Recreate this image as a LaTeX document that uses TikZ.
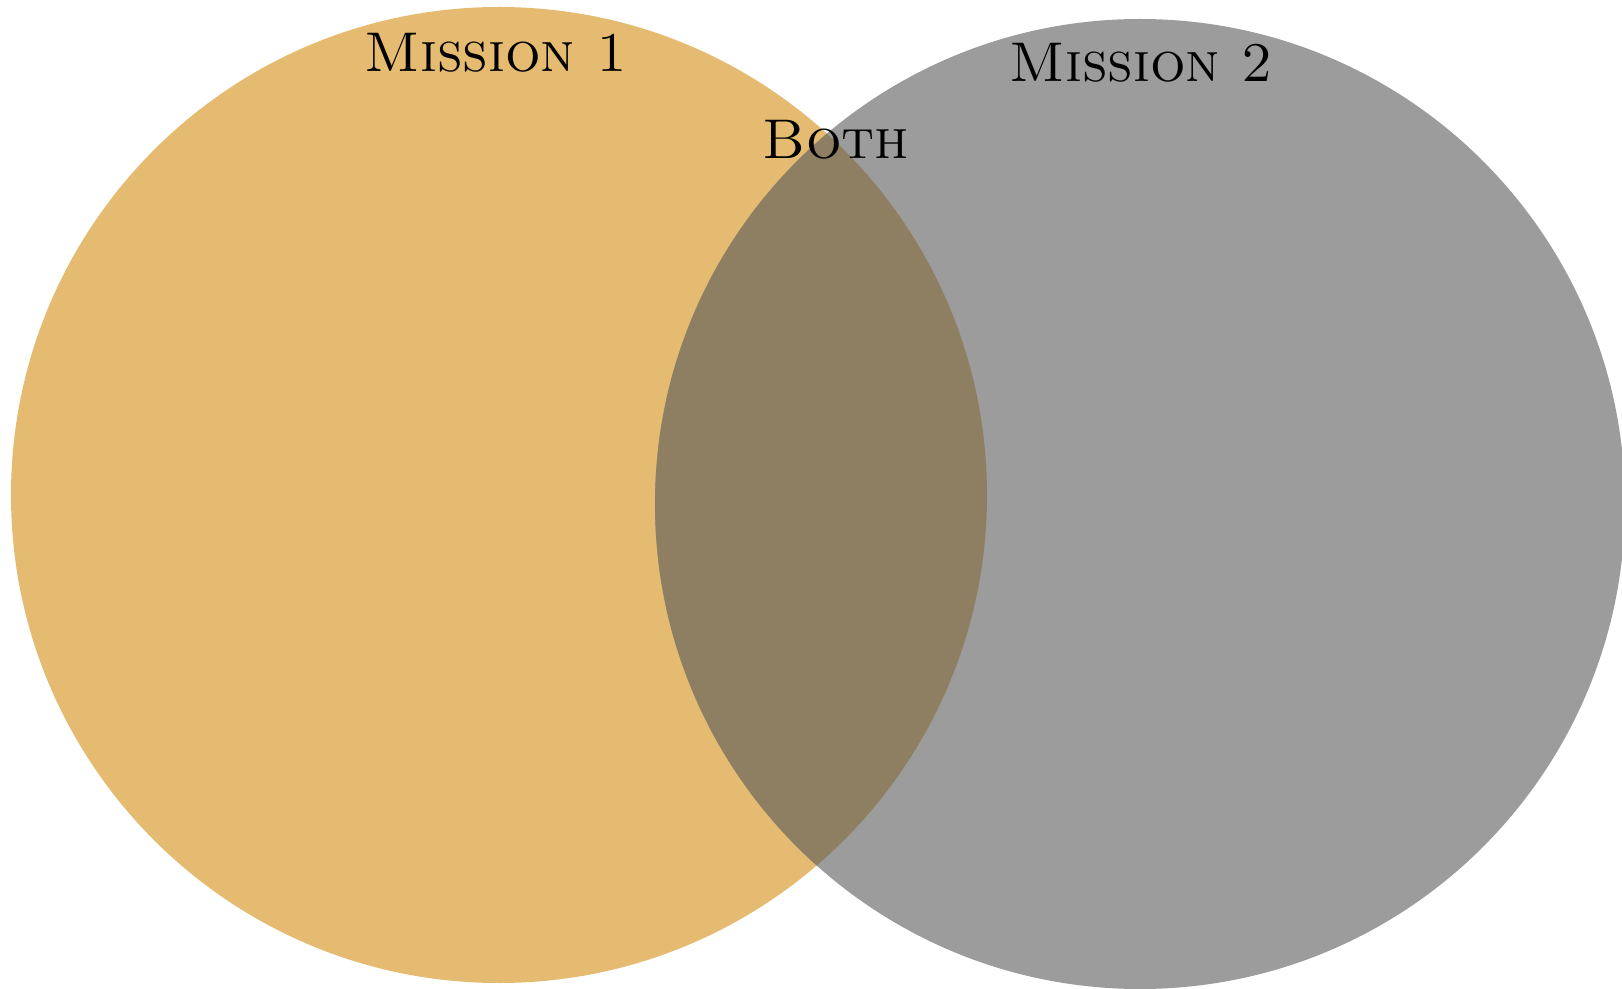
\documentclass[tikz,border=0pt]{standalone}
\usepackage{tikz}
\definecolor{gold}{HTML}{E4BB70}
\definecolor{stone}{HTML}{9C9C9C}
\definecolor{mud}{HTML}{8F7F62}
\begin{document}
\begin{tikzpicture}[x=0.5pt,y=0.5pt]
  \tikzstyle{venntext}=[font=\fontsize{28}{34}\selectfont\scshape,anchor=base,inner sep=0pt]
  \useasboundingbox (0,0) rectangle (1622,-989);
  \clip (0,0) rectangle (1622,-989);
  % the two missions
  \fill[gold] (499,-495) circle (488);
  \fill[stone] (1140,-504) circle (485);
  % overlap
  \begin{scope}
    \clip (499,-495) circle (488);
    \fill[mud] (1140,-504) circle (485);
  \end{scope}
  \node[venntext] (one) at (496,-72) {Mission 1};
  \node[venntext] (two) at (1141,-82) {Mission 2};
  \node[venntext] (both) at (836,-159) {Both};
\end{tikzpicture}
\end{document}
